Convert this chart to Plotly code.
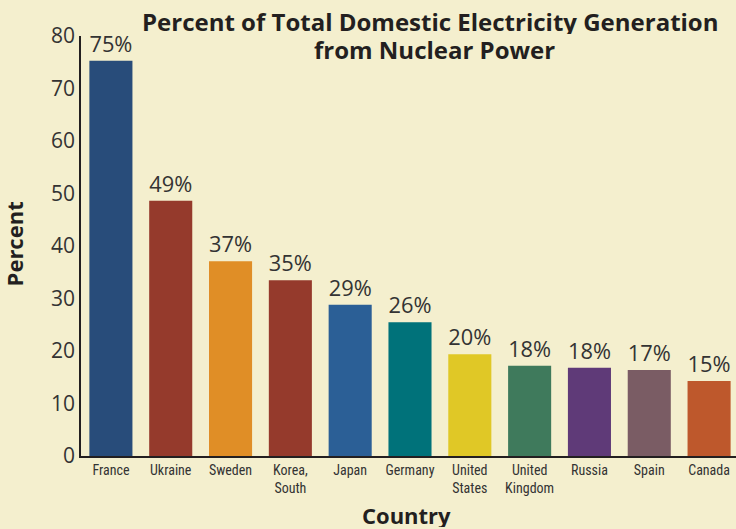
import plotly.graph_objects as go

# Data
countries = ['France', 'Ukraine', 'Sweden', 'Korea,<br>South', 'Japan', 'Germany',
             'United<br>States', 'United<br>Kingdom', 'Russia', 'Spain', 'Canada']
percent = [75.3, 48.6, 37.1, 33.5, 28.8, 25.5, 19.4, 17.2, 16.8, 16.4, 14.3]
percent_labels = ['75%', '49%', '37%', '35%', '29%', '26%', '20%', '18%', '18%', '17%', '15%']
bar_colors = ['#284C7A', '#953A2C', '#E08E26', '#953A2C', '#2B5F96', '#00727A',
              '#E0C826', '#3F7A5C', '#5F3A78', '#7A5C64', '#BE582C']
y_ticks = [0, 10, 20, 30, 40, 50, 60, 70, 80]
title_lines = ['Percent of Total Domestic Electricity Generation', 'from Nuclear Power']

bg = '#F4EFCE'
ink = '#231F20'

fig = go.Figure(go.Bar(x = countries,
                       y = percent,
                       marker_color = bar_colors,
                       marker_line_width = 0,
                       width = 0.72,
                       text = percent_labels,
                       textposition = 'outside',
                       cliponaxis = False,
                       textfont = dict(family = 'Open Sans', size = 22, color = '#333333')))

fig.update_layout(width = 736, height = 529,
                  paper_bgcolor = bg,
                  plot_bgcolor = bg,
                  margin = dict(l = 81, r = 0, t = 36, b = 73, autoexpand = False),
                  showlegend = False,
                  font = dict(family = 'Open Sans', color = ink))

# Title lines and axis titles as annotations, placed like the reference
fig.add_annotation(text = f'<b>{title_lines[0]}</b>', height = 26,
                   xref = 'paper', yref = 'paper', x = 0.534, y = 1.036,
                   xanchor = 'center', yanchor = 'middle', showarrow = False,
                   font = dict(family = 'Open Sans', size = 24, color = ink))
fig.add_annotation(text = f'<b>{title_lines[1]}</b>', height = 26,
                   xref = 'paper', yref = 'paper', x = 0.540, y = 0.969,
                   xanchor = 'center', yanchor = 'middle', showarrow = False,
                   font = dict(family = 'Open Sans', size = 24, color = ink))
fig.add_annotation(text = '<b>Country</b>', height = 24,
                   xref = 'paper', yref = 'paper', x = 0.497, y = -0.140,
                   xanchor = 'center', yanchor = 'middle', showarrow = False,
                   font = dict(family = 'Open Sans', size = 22, color = ink))
fig.add_annotation(text = '<b>Percent</b>', textangle = -90,
                   xref = 'paper', yref = 'paper', x = -0.103, y = 0.505,
                   xanchor = 'center', yanchor = 'middle', showarrow = False,
                   font = dict(family = 'Open Sans', size = 22, color = ink))

fig.update_xaxes(range = [-0.5, 10.45], automargin = False,
                 showline = True, linecolor = ink, linewidth = 1.5,
                 ticks = '', showgrid = False,
                 tickfont = dict(family = 'Liberation Sans Narrow, Roboto Condensed, Open Sans', size = 14, color = '#333333'))

fig.update_yaxes(range = [0, 80], tickvals = y_ticks, automargin = False,
                 showline = True, linecolor = ink, linewidth = 1.5,
                 ticks = '', showgrid = False, zeroline = False,
                 tickfont = dict(family = 'Open Sans', size = 21, color = '#333333'))

# drop the default page margin so the figure sits at the window's corner
fig.write_html('out.html',
               config = {'displayModeBar': False},
               post_script = "document.body.style.margin='0';document.body.style.overflow='hidden';"
                             "document.body.style.background='#F4EFCE';")
